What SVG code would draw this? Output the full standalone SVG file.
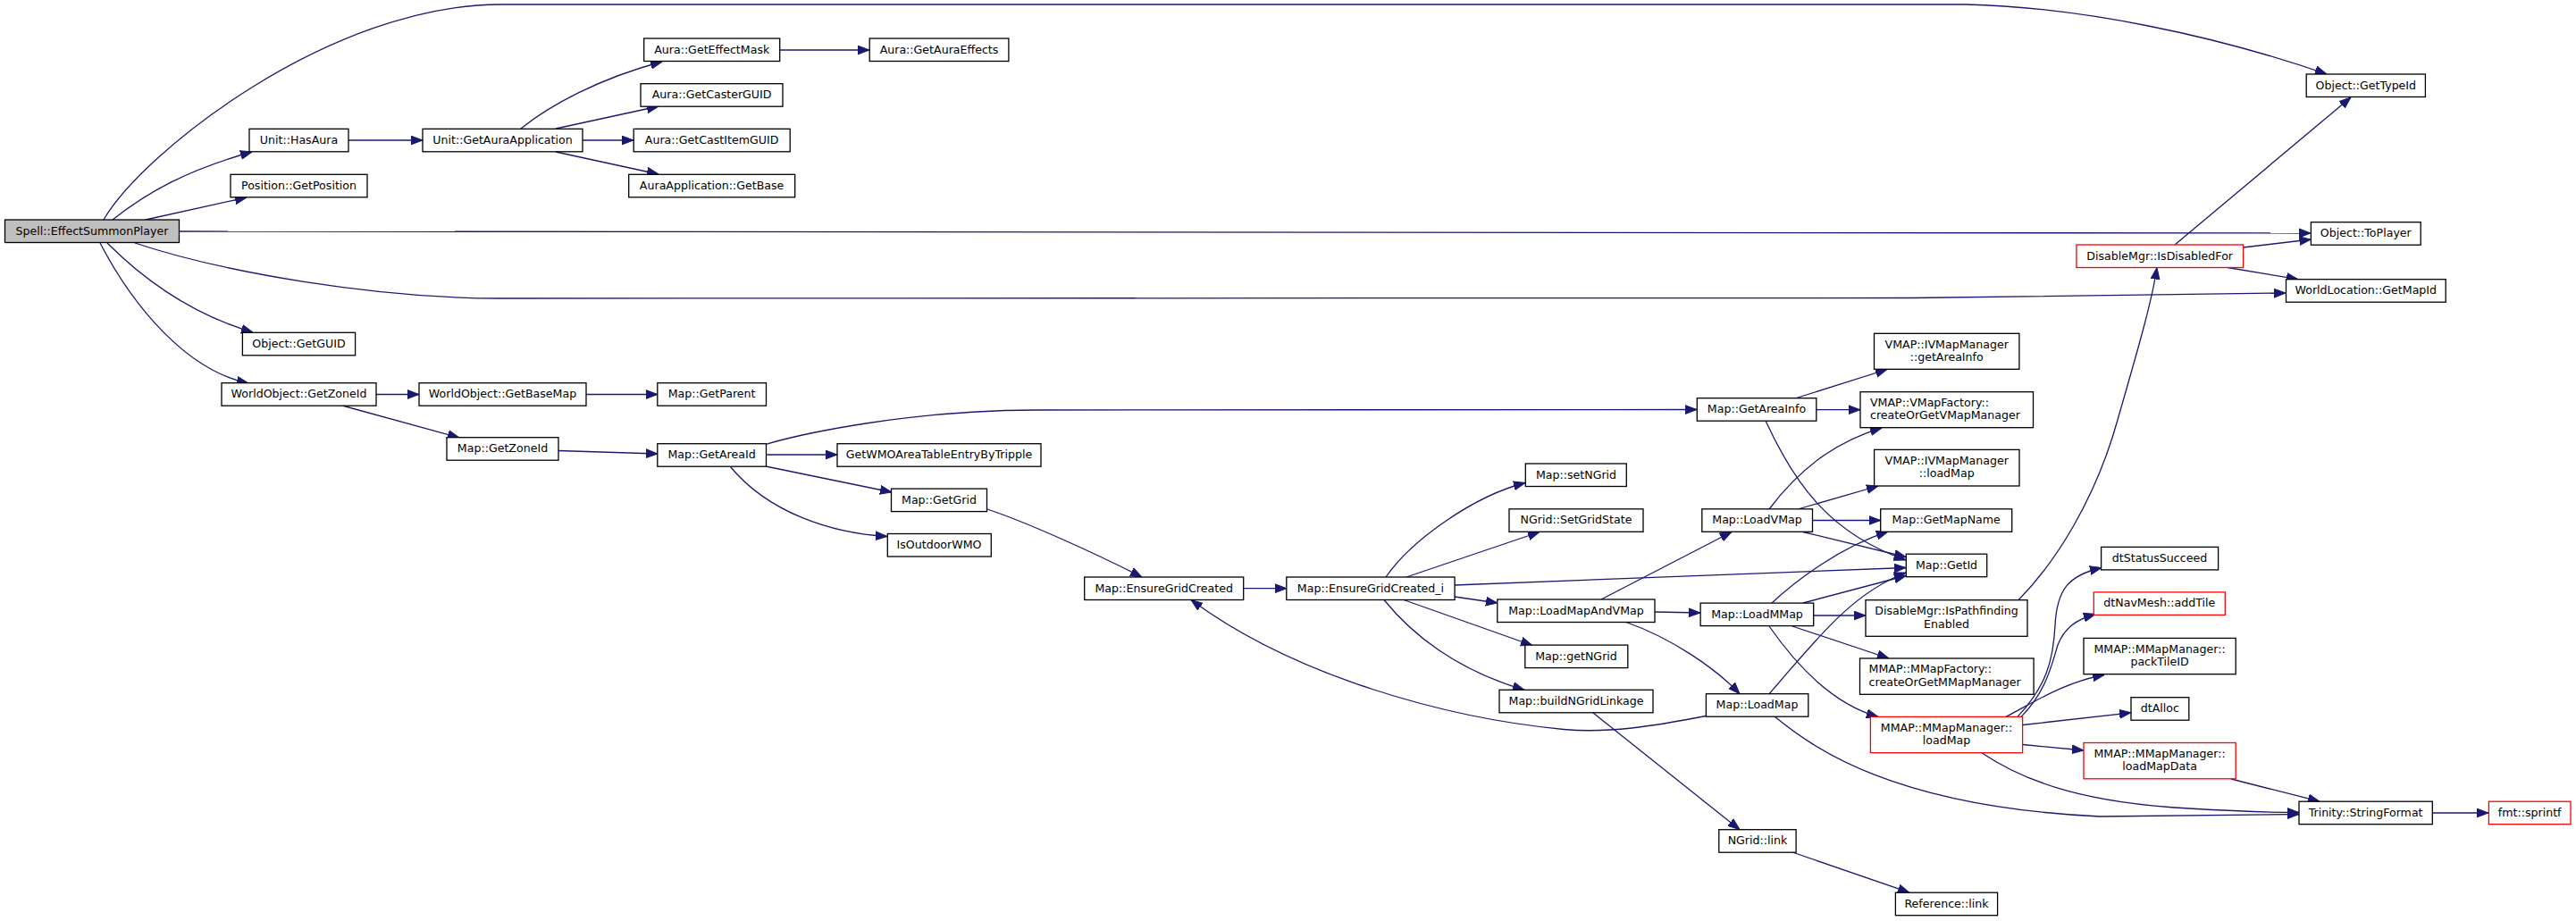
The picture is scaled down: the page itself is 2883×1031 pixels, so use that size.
<svg xmlns="http://www.w3.org/2000/svg" width="2883" height="1031" viewBox="0 0 2883 1031">
<defs>
<style>
.node rect{fill:#fff;stroke:#000;stroke-width:1.3}
.node.root rect{fill:#bfbfbf}
.node.trunc rect{stroke:#ff0000}
text{font-family:"DejaVu Sans",sans-serif;font-size:12.6px;fill:#000;text-anchor:middle}
text.l{text-anchor:start}
.edges path{fill:none;stroke:#191970;stroke-width:1.3;marker-end:url(#arr)}
</style>
<marker id="arr" markerUnits="userSpaceOnUse" viewBox="0 -5.5 13 11" refX="13" refY="0" markerWidth="13" markerHeight="11" orient="auto">
<path d="M0,-4.9 L13,0 L0,4.9 z" fill="#191970" stroke="#191970" stroke-width="1"/>
</marker>
</defs>
<rect width="2883" height="1031" fill="#fff"/>
<g class="edges" id="edges">
<path d="M116,246 C160,170 370,5 560,5 L2200,5 C2330,8 2480,40 2604,83"/>
<path d="M126,246 C165,215 210,190 282,170"/>
<path d="M163,246 L276,221"/>
<path d="M200.5,259 L2586,261"/>
<path d="M151,272 C250,305 420,334 560,334 L2140,333.5 L2558,328"/>
<path d="M120,272 C160,312 215,352 283,372"/>
<path d="M112,272 C150,345 210,415 278,429"/>
<path d="M390,157 L473,157"/>
<path d="M583,144 C615,118 670,88 741,69"/>
<path d="M622,144 L737,119"/>
<path d="M652,157 L709,157"/>
<path d="M622,170 L737,195"/>
<path d="M873,56 L973,56"/>
<path d="M421,441.5 L469,441.5"/>
<path d="M383,454 L514,490"/>
<path d="M656,441.5 L736,441.5"/>
<path d="M625,504.5 L736,508"/>
<path d="M858,497 C900,485 1020,459 1160,459 L1899,458.5"/>
<path d="M858,509 L937,509"/>
<path d="M857,522 L998,551"/>
<path d="M817,522 C860,574 930,597 993,600.5"/>
<path d="M1105,570 C1150,585 1225,619 1278,646"/>
<path d="M1392,658.7 L1440,658.7"/>
<path d="M1551,646 C1580,604 1650,555 1707,540.5"/>
<path d="M1574,646 L1723,595.5"/>
<path d="M1628,655 L2133,635.5"/>
<path d="M1628,668 L1676,675"/>
<path d="M1571,671.5 L1715,722.5"/>
<path d="M1549,671.5 C1580,710 1630,750 1706,772.3"/>
<path d="M1792,671 L1938,595.5"/>
<path d="M1852,685 L1903,686"/>
<path d="M1820,696.5 C1870,714 1920,748 1947,776.7"/>
<path d="M1980,570 C2010,530 2050,495 2106,479"/>
<path d="M2012,570 L2102,544"/>
<path d="M2028.5,582.5 L2104.7,582.5"/>
<path d="M2018,595.5 L2133,623.5"/>
<path d="M2009,446 L2112,413.5"/>
<path d="M2033,458.7 L2082,458.7"/>
<path d="M1976,471 C2010,545 2050,598 2133,627"/>
<path d="M1983,675 C2010,650 2060,612 2113,595.2"/>
<path d="M2018,675 L2133,644.5"/>
<path d="M2030,689 L2088,689"/>
<path d="M2006,701 L2114,737"/>
<path d="M1980,701 C2010,744 2050,788 2102,802.4"/>
<path d="M1980,776.7 C2030,720 2070,665 2133,641"/>
<path d="M1986,802 C2030,838 2120,903 2350,914 L2573,911.5"/>
<path d="M1909,801.5 C1850,813 1800,821 1750,816.5 C1620,804 1450,758 1333,671.5"/>
<path d="M1783,798 L1947,928.7"/>
<path d="M2006,954 L2137,999.2"/>
<path d="M2258,802.4 C2290,768 2298,740 2300,700 C2302,660 2315,644 2352,635.5"/>
<path d="M2262,802.4 C2290,774 2296,745 2303,722 C2310,704 2322,694 2345,687.5"/>
<path d="M2245,802.4 C2280,784 2310,764 2355,755.5"/>
<path d="M2264,811.5 L2385,797.8"/>
<path d="M2264,833.5 L2332,840"/>
<path d="M2218,842.7 C2270,878 2340,899 2450,905 C2500,908 2540,909.5 2573,909.5"/>
<path d="M2497,872 L2596,897.2"/>
<path d="M2722,910 L2785,910"/>
<path d="M2259,671.7 C2300,630 2345,560 2370,470 C2390,400 2408,340 2414,299.5"/>
<path d="M2434,274 L2631,109"/>
<path d="M2510.6,277 L2586.4,268"/>
<path d="M2493,299.5 L2572,312.7"/>
</g>
<g id="n1" class="node root"><rect x="5.5" y="246" width="195" height="25.5"/><text x="103" y="262.5">Spell::EffectSummonPlayer</text></g>
<g id="n2" class="node"><rect x="279" y="144.3" width="111" height="25.5"/><text x="334.5" y="160.8">Unit::HasAura</text></g>
<g id="n3" class="node"><rect x="258" y="195.3" width="153" height="25.5"/><text x="334.5" y="211.8">Position::GetPosition</text></g>
<g id="n4" class="node"><rect x="271.4" y="372.3" width="126.2" height="25.5"/><text x="334.5" y="388.8">Object::GetGUID</text></g>
<g id="n5" class="node"><rect x="248" y="428.7" width="173" height="25.5"/><text x="334.5" y="445.2">WorldObject::GetZoneId</text></g>
<g id="n6" class="node"><rect x="473" y="144.3" width="179" height="25.5"/><text x="562.5" y="160.8">Unit::GetAuraApplication</text></g>
<g id="n7" class="node"><rect x="469" y="428.7" width="187" height="25.5"/><text x="562.5" y="445.2">WorldObject::GetBaseMap</text></g>
<g id="n8" class="node"><rect x="500" y="489.7" width="125" height="25.5"/><text x="562.5" y="506.2">Map::GetZoneId</text></g>
<g id="n9" class="node"><rect x="720.7" y="43" width="152" height="25.5"/><text x="796.7" y="59.5">Aura::GetEffectMask</text></g>
<g id="n10" class="node"><rect x="973.2" y="43" width="155.7" height="25.5"/><text x="1051" y="59.5">Aura::GetAuraEffects</text></g>
<g id="n11" class="node"><rect x="717" y="93.7" width="159" height="25.5"/><text x="796.6" y="110.2">Aura::GetCasterGUID</text></g>
<g id="n12" class="node"><rect x="709.2" y="144.3" width="175" height="25.5"/><text x="796.6" y="160.8">Aura::GetCastItemGUID</text></g>
<g id="n13" class="node"><rect x="703.7" y="195.3" width="186" height="25.5"/><text x="796.6" y="211.8">AuraApplication::GetBase</text></g>
<g id="n14" class="node"><rect x="735.8" y="428.7" width="121.7" height="25.5"/><text x="796.6" y="445.2">Map::GetParent</text></g>
<g id="n15" class="node"><rect x="735.8" y="496.7" width="121.7" height="25.5"/><text x="796.6" y="513.2">Map::GetAreaId</text></g>
<g id="n16" class="node"><rect x="937" y="496.7" width="228" height="25.5"/><text x="1051" y="513.2">GetWMOAreaTableEntryByTripple</text></g>
<g id="n17" class="node"><rect x="997.5" y="547.1" width="107" height="25.5"/><text x="1051" y="563.6">Map::GetGrid</text></g>
<g id="n18" class="node"><rect x="993.3" y="597.5" width="116" height="25.5"/><text x="1051" y="614">IsOutdoorWMO</text></g>
<g id="n19" class="node"><rect x="1213.7" y="646" width="178" height="25.5"/><text x="1302.7" y="662.5">Map::EnsureGridCreated</text></g>
<g id="n20" class="node"><rect x="1439.8" y="646" width="188.3" height="25.5"/><text x="1534" y="662.5">Map::EnsureGridCreated_i</text></g>
<g id="n21" class="node"><rect x="1707.3" y="519" width="113" height="25.5"/><text x="1764" y="535.5">Map::setNGrid</text></g>
<g id="n22" class="node"><rect x="1689" y="569.8" width="150" height="25.5"/><text x="1764" y="586.3">NGrid::SetGridState</text></g>
<g id="n23" class="node"><rect x="1675.8" y="671" width="176.2" height="25.5"/><text x="1764" y="687.5">Map::LoadMapAndVMap</text></g>
<g id="n24" class="node"><rect x="1706.8" y="722.1" width="115" height="25.5"/><text x="1764" y="738.6">Map::getNGrid</text></g>
<g id="n25" class="node"><rect x="1678" y="772.3" width="172" height="25.5"/><text x="1764" y="788.8">Map::buildNGridLinkage</text></g>
<g id="n26" class="node"><rect x="1899.3" y="445.7" width="133.5" height="25.5"/><text x="1966" y="462.2">Map::GetAreaInfo</text></g>
<g id="n27" class="node"><rect x="1904.8" y="569.8" width="123.7" height="25.5"/><text x="1966.5" y="586.3">Map::LoadVMap</text></g>
<g id="n28" class="node"><rect x="1903.1" y="675.1" width="126.6" height="25.5"/><text x="1966.5" y="691.6">Map::LoadMMap</text></g>
<g id="n29" class="node"><rect x="1909.4" y="776.7" width="114.4" height="25.5"/><text x="1966.5" y="793.2">Map::LoadMap</text></g>
<g id="n30" class="node"><rect x="1923.8" y="928.7" width="86.3" height="25.5"/><text x="1967" y="945.2">NGrid::link</text></g>
<g id="n31" class="node"><rect x="2097.5" y="373.3" width="162.4" height="40"/><text x="2178.7" y="389.7">VMAP::IVMapManager</text><text x="2178.7" y="403.9">::getAreaInfo</text></g>
<g id="n32" class="node"><rect x="2082" y="438.7" width="193.5" height="40"/><text class="l" x="2093" y="455.1">VMAP::VMapFactory::</text><text class="l" x="2093" y="469.3">createOrGetVMapManager</text></g>
<g id="n33" class="node"><rect x="2097.6" y="503.4" width="162.4" height="40.6"/><text x="2178.7" y="519.8">VMAP::IVMapManager</text><text x="2178.7" y="534">::loadMap</text></g>
<g id="n34" class="node"><rect x="2104.7" y="569.8" width="147" height="25.5"/><text x="2178.2" y="586.3">Map::GetMapName</text></g>
<g id="n35" class="node"><rect x="2133.3" y="620.2" width="90.4" height="25.5"/><text x="2178.5" y="636.7">Map::GetId</text></g>
<g id="n36" class="node"><rect x="2088" y="671.7" width="181" height="40.6"/><text x="2178.5" y="688.3">DisableMgr::IsPathfinding</text><text x="2178.5" y="702.5">Enabled</text></g>
<g id="n37" class="node"><rect x="2081.5" y="737" width="194.6" height="40.3"/><text class="l" x="2091.6" y="753.4">MMAP::MMapFactory::</text><text class="l" x="2091.6" y="767.6">createOrGetMMapManager</text></g>
<g id="n38" class="node trunc"><rect x="2093.4" y="802.4" width="170.2" height="40.3"/><text x="2178.5" y="818.8">MMAP::MMapManager::</text><text x="2178.5" y="833">loadMap</text></g>
<g id="n39" class="node"><rect x="2121.4" y="999.2" width="114.2" height="25.5"/><text x="2178.5" y="1015.7">Reference::link</text></g>
<g id="n40" class="node"><rect x="2351.6" y="612.4" width="131" height="25.5"/><text x="2417" y="628.9">dtStatusSucceed</text></g>
<g id="n41" class="node trunc"><rect x="2343.3" y="662.9" width="147" height="25.5"/><text x="2416.8" y="679.4">dtNavMesh::addTile</text></g>
<g id="n42" class="node"><rect x="2332" y="714.4" width="170.2" height="40.3"/><text x="2417.1" y="730.8">MMAP::MMapManager::</text><text x="2417.1" y="745">packTileID</text></g>
<g id="n43" class="node"><rect x="2385" y="780.7" width="64.8" height="25.5"/><text x="2417.4" y="797.2">dtAlloc</text></g>
<g id="n44" class="node trunc"><rect x="2332" y="831.5" width="170.2" height="40.3"/><text x="2417.1" y="847.9">MMAP::MMapManager::</text><text x="2417.1" y="862.1">loadMapData</text></g>
<g id="n45" class="node"><rect x="2573" y="897.2" width="149.3" height="25.5"/><text x="2647.6" y="913.7">Trinity::StringFormat</text></g>
<g id="n46" class="node trunc"><rect x="2785.4" y="897.2" width="91.6" height="25.5"/><text x="2831.2" y="913.7">fmt::sprintf</text></g>
<g id="n47" class="node"><rect x="2581.2" y="83" width="133.2" height="25.5"/><text x="2647.8" y="99.5">Object::GetTypeId</text></g>
<g id="n48" class="node"><rect x="2586.4" y="248.7" width="122.8" height="25.5"/><text x="2647.8" y="265.2">Object::ToPlayer</text></g>
<g id="n49" class="node trunc"><rect x="2323.9" y="274" width="186.7" height="25.5"/><text x="2417.2" y="290.5">DisableMgr::IsDisabledFor</text></g>
<g id="n50" class="node"><rect x="2558.5" y="312.7" width="178.7" height="25.5"/><text x="2647.8" y="329.2">WorldLocation::GetMapId</text></g>
</svg>
